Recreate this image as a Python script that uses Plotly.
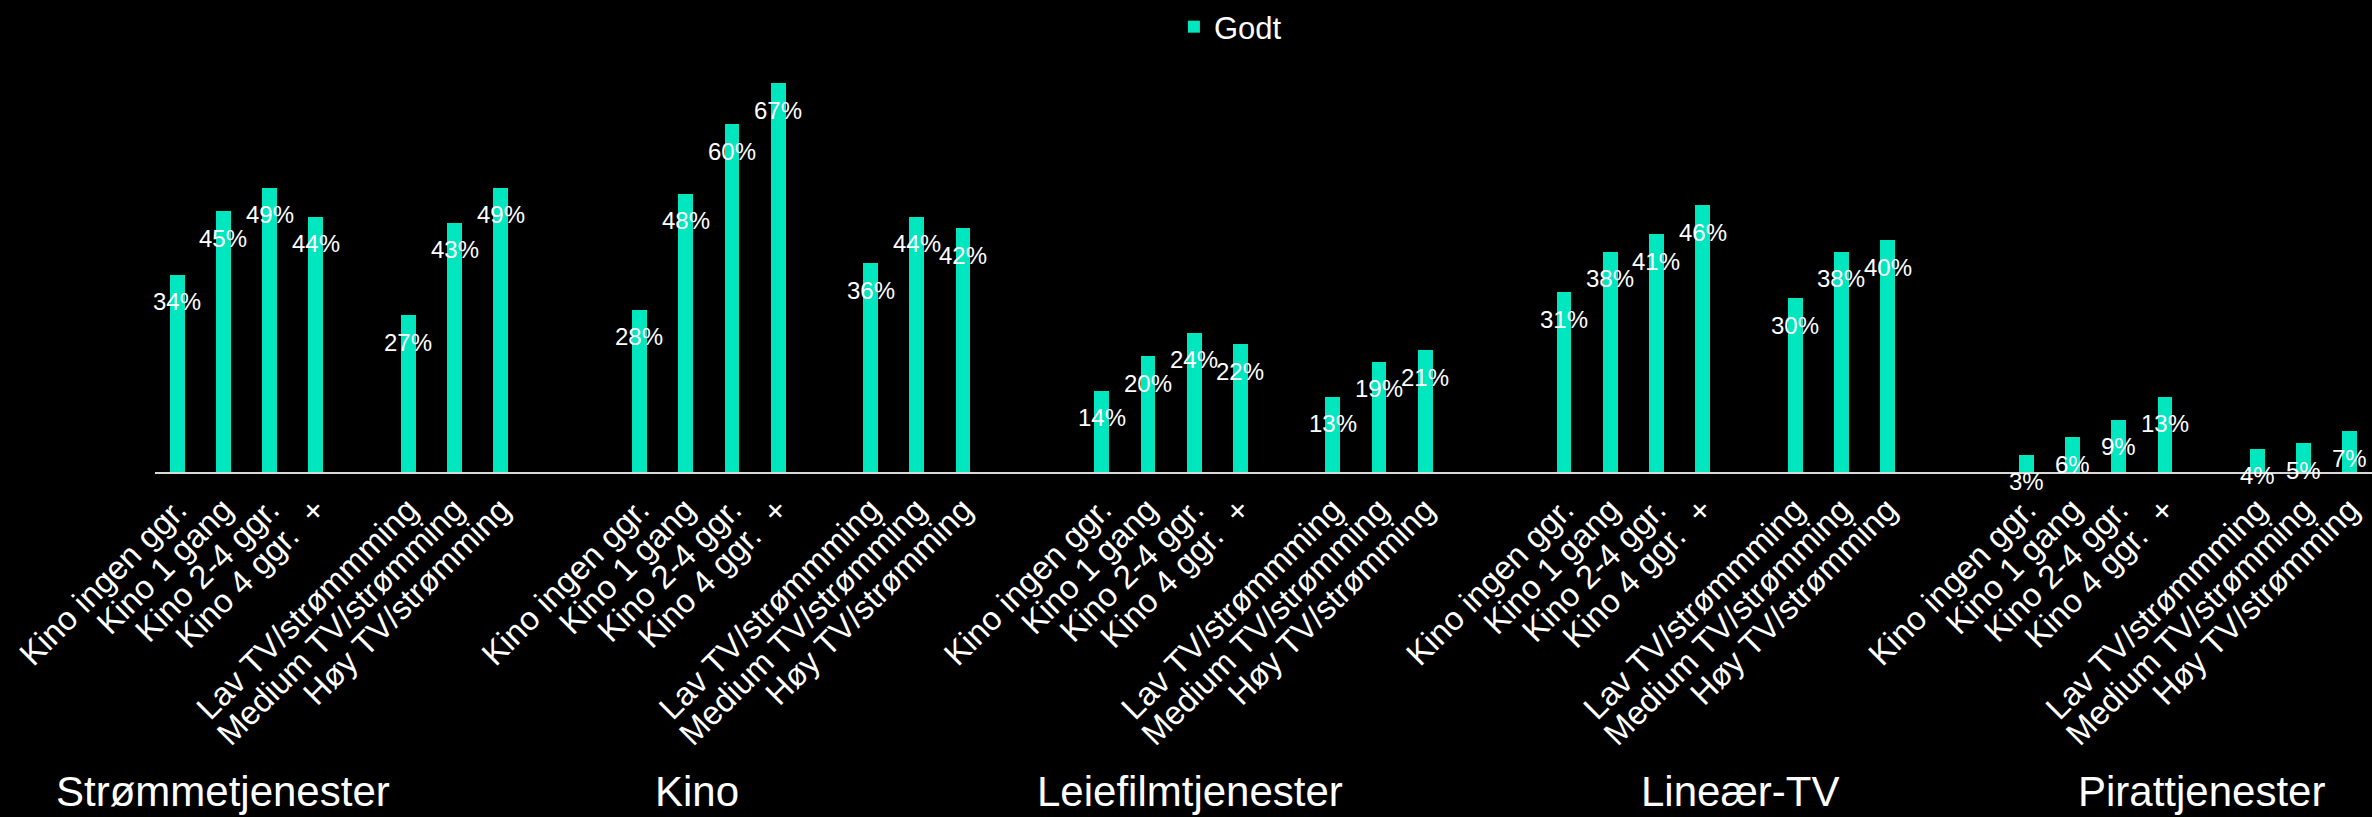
import plotly.graph_objects as go

# Kategorier og verdier (andel "Godt")
groups = ["Strømmetjenester", "Kino", "Leiefilmtjenester", "Lineær-TV", "Pirattjenester"]
segments = ["Kino ingen ggr.", "Kino 1 gang", "Kino 2-4 ggr.", "Kino 4 ggr.\u00a0 +",
            "Lav TV/strømmming", "Medium TV/strømming", "Høy TV/strømming"]

godt_strommetjenester = [0.34, 0.45, 0.49, 0.44, 0.27, 0.43, 0.49]
godt_kino = [0.28, 0.48, 0.60, 0.67, 0.36, 0.44, 0.42]
godt_leiefilm = [0.14, 0.20, 0.24, 0.22, 0.13, 0.19, 0.21]
godt_lineaer_tv = [0.31, 0.38, 0.41, 0.46, 0.30, 0.38, 0.40]
godt_pirat = [0.03, 0.06, 0.09, 0.13, 0.04, 0.05, 0.07]

series = [godt_strommetjenester, godt_kino, godt_leiefilm, godt_lineaer_tv, godt_pirat]

BAR_COLOR = '#00E6BE'
FONT = 'Arial, Liberation Sans, sans-serif'

# posisjoner: 10 plasser per gruppe, tom plass mellom kino- og TV-segment
x_pos, y_val, tick_text = [], [], []
for g, values in enumerate(series):
    for i, v in enumerate(values):
        x_pos.append(10 * g + (i if i < 4 else i + 1))
        y_val.append(v)
        tick_text.append(segments[i])

fig = go.Figure()
fig.add_trace(go.Bar(
    x=x_pos, y=y_val, name='Godt',
    marker=dict(color=BAR_COLOR, line=dict(width=0)),
    width=0.32, hoverinfo='skip'
))

# dataetiketter litt under toppen av hver stolpe
for x, v in zip(x_pos, y_val):
    fig.add_annotation(x=x, y=v, text=f"{v:.0%}", showarrow=False,
                       yanchor='middle', yshift=-27,
                       font=dict(family=FONT, size=24, color='white'))

# gruppetitler under aksen
title_x = [1.0, 11.25, 21.9, 33.8, 43.8]
for name, tx in zip(groups, title_x):
    fig.add_annotation(x=tx, y=0, yref='paper', text=name, showarrow=False,
                       yanchor='middle', yshift=-319,
                       font=dict(family=FONT, size=42, color='white'))

fig.update_layout(
    width=2372, height=817,
    paper_bgcolor='black', plot_bgcolor='black',
    margin=dict(l=155, r=0, t=6, b=345),
    bargap=0,
    showlegend=True,
    legend=dict(orientation='h', x=0.4596, xanchor='left', y=0.959, yanchor='middle',
                font=dict(family=FONT, size=31, color='white'),
                bgcolor='rgba(0,0,0,0)', itemwidth=30),
    xaxis=dict(range=[-0.48, 47.48], tickvals=x_pos, ticktext=tick_text,
               tickangle=-45, showgrid=False, zeroline=False,
               showline=True, linecolor='#D9D9D9', linewidth=2,
               ticks='outside', ticklen=3, tickcolor='rgba(0,0,0,0)',
               tickfont=dict(family=FONT, size=33, color='white')),
    yaxis=dict(range=[0, 0.8], visible=False, showgrid=False, zeroline=False),
    font=dict(family=FONT, color='white'),
)

fig.write_html("out.html", config={'displayModeBar': False},
               post_script="document.body.style.margin='0';")
